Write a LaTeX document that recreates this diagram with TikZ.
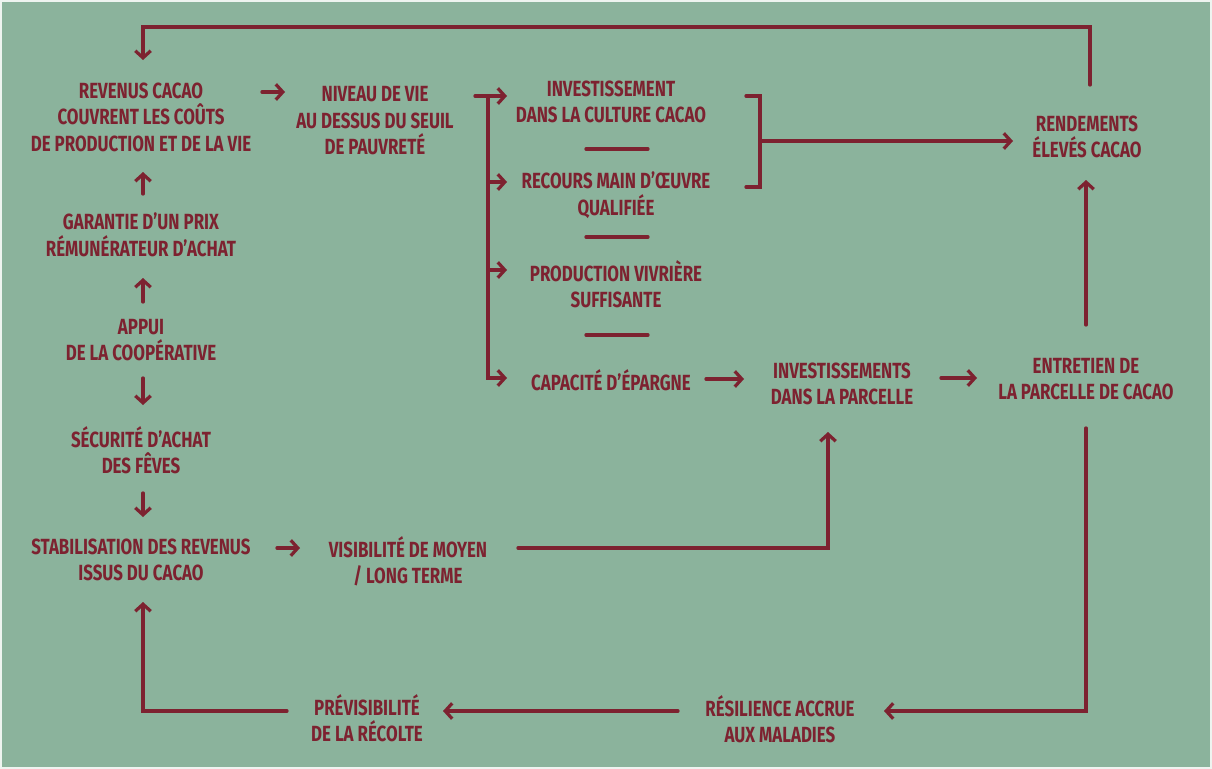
\documentclass[tikz,border=0pt]{standalone}
\usepackage{fontspec}
\usepackage{tikz}
\usetikzlibrary{arrows.meta, calc}
\newfontfamily\diagfont{Fira Sans}[FakeStretch=0.77]
\definecolor{sage}{HTML}{8BB39C}
\definecolor{cocoa}{HTML}{7D2230}

\begin{document}
\begin{tikzpicture}[x=0.025cm, y=-0.025cm,
    label/.style={text=cocoa, align=center, inner sep=0pt,
        font=\diagfont\bfseries\fontsize{15.6}{18.8}\selectfont},
    line/.style={draw=cocoa, line width=2.3pt, line cap=round, line join=miter},
    arr/.style={line, -{Straight Barb[length=5pt, width=11pt, line width=2.3pt]}}]
        % Background
        \useasboundingbox (0,0) rectangle (1212,769);
        \fill[white!85!sage] (0,0) rectangle (1212,769);
        \fill[sage] (2,2) rectangle (1210,767);

        % Left column
        \node[label] (rev) at (141,117) {REVENUS CACAO\\COUVRENT LES COÛTS\\DE PRODUCTION ET DE LA VIE};
        \node[label] (gar) at (141,235) {GARANTIE D’UN PRIX\\RÉMUNÉRATEUR D’ACHAT};
        \node[label] (appui) at (141,340) {APPUI\\DE LA COOPÉRATIVE};
        \node[label] (sec) at (141,450) {SÉCURITÉ D’ACHAT\\DES FÊVES};
        \node[label] (stab) at (141,560) {STABILISATION DES REVENUS\\ISSUS DU CACAO};

        % Middle
        \node[label] (niv) at (375,121) {NIVEAU DE VIE\\AU DESSUS DU SEUIL\\DE PAUVRETÉ};
        \node[label] (vis) at (408,561) {VISIBILITÉ DE MOYEN\\/ LONG TERME};
        \node[label] (inv) at (611,102) {INVESTISSEMENT\\DANS LA CULTURE CACAO};
        \node[label] (rec) at (616,195) {RECOURS MAIN D’ŒUVRE\\QUALIFIÉE};
        \node[label] (prod) at (616,284) {PRODUCTION VIVRIÈRE\\SUFFISANTE};
        \node[label] (cap) at (611,380) {CAPACITÉ D’ÉPARGNE};
        \node[label] (invp) at (842,384) {INVESTISSEMENTS\\DANS LA PARCELLE};

        % Right column
        \node[label] (rend) at (1087,137) {RENDEMENTS\\ÉLEVÉS CACAO};
        \node[label] (ent) at (1086,379) {ENTRETIEN DE\\LA PARCELLE DE CACAO};

        % Bottom row
        \node[label] (res) at (780,719) {RÉSILIENCE ACCRUE\\AUX MALADIES};
        \node[label] (prev) at (367,718) {PRÉVISIBILITÉ\\DE LA RÉCOLTE};

        % Left column arrows
        \draw[arr] ($(gar)+(2,-41)$) -- ($(rev)+(2,55)$);
        \draw[arr] ($(appui)+(2,-38)$) -- ($(gar)+(2,43)$);
        \draw[arr] ($(appui)+(2,38)$) -- ($(sec)+(2,-45)$);
        \draw[arr] ($(sec)+(2,43)$) -- ($(stab)+(2,-43)$);
        \draw[arr] ($(rev)+(121,-25)$) -- ($(niv)+(-90,-29)$);
        \draw[arr] ($(stab)+(136,-12)$) -- ($(vis)+(-108,-13)$);

        % Split into the four effects
        \coordinate (split) at ($(niv)+(113,-25)$);
        \draw[arr] ($(niv)+(100,-25)$) -- ($(inv)+(-104,-6)$);
        \draw[arr] (split) |- ($(cap)+(-104,-2)$);
        \draw[arr] ($(rec)+(-128,-13)$) -- ($(rec)+(-109,-13)$);
        \draw[arr] ($(prod)+(-128,-14)$) -- ($(prod)+(-109,-14)$);
        \draw[line] ($(rec)+(-30,-46)$) -- ++(62,0);
        \draw[line] ($(prod)+(-30,-47)$) -- ++(62,0);
        \draw[line] ($(cap)+(-25,-45)$) -- ++(62,0);

        % Bracket to yields
        \draw[line] ($(inv)+(135,-6)$) -- ++(14,0) -- ++(0,91) -- ++(-14,0);
        \draw[arr] ($(inv)+(149,39)$) -- ($(rend)+(-74,4)$);

        % Investment chain
        \draw[arr] ($(cap)+(95,-1)$) -- ($(invp)+(-98,-5)$);
        \draw[arr] ($(invp)+(99,-6)$) -- ($(ent)+(-109,-1)$);
        \draw[arr] ($(ent)+(0,-54)$) -- ($(rend)+(-1,43)$);
        \draw[arr] ($(vis)+(110,-13)$) -| ($(invp)+(-14,48)$);

        % Loops
        \draw[arr] ($(rend)+(3,-52)$) |- ($(rev)+(2,-90)$) -- ($(rev)+(2,-57)$);
        \draw[arr] ($(ent)+(0,49)$) |- ($(res)+(104,-8)$);
        \draw[arr] ($(res)+(-102,-8)$) -- ($(prev)+(76,-7)$);
        \draw[arr] ($(prev)+(-80,-7)$) -| ($(stab)+(2,42)$);
    \end{tikzpicture}
\end{document}
